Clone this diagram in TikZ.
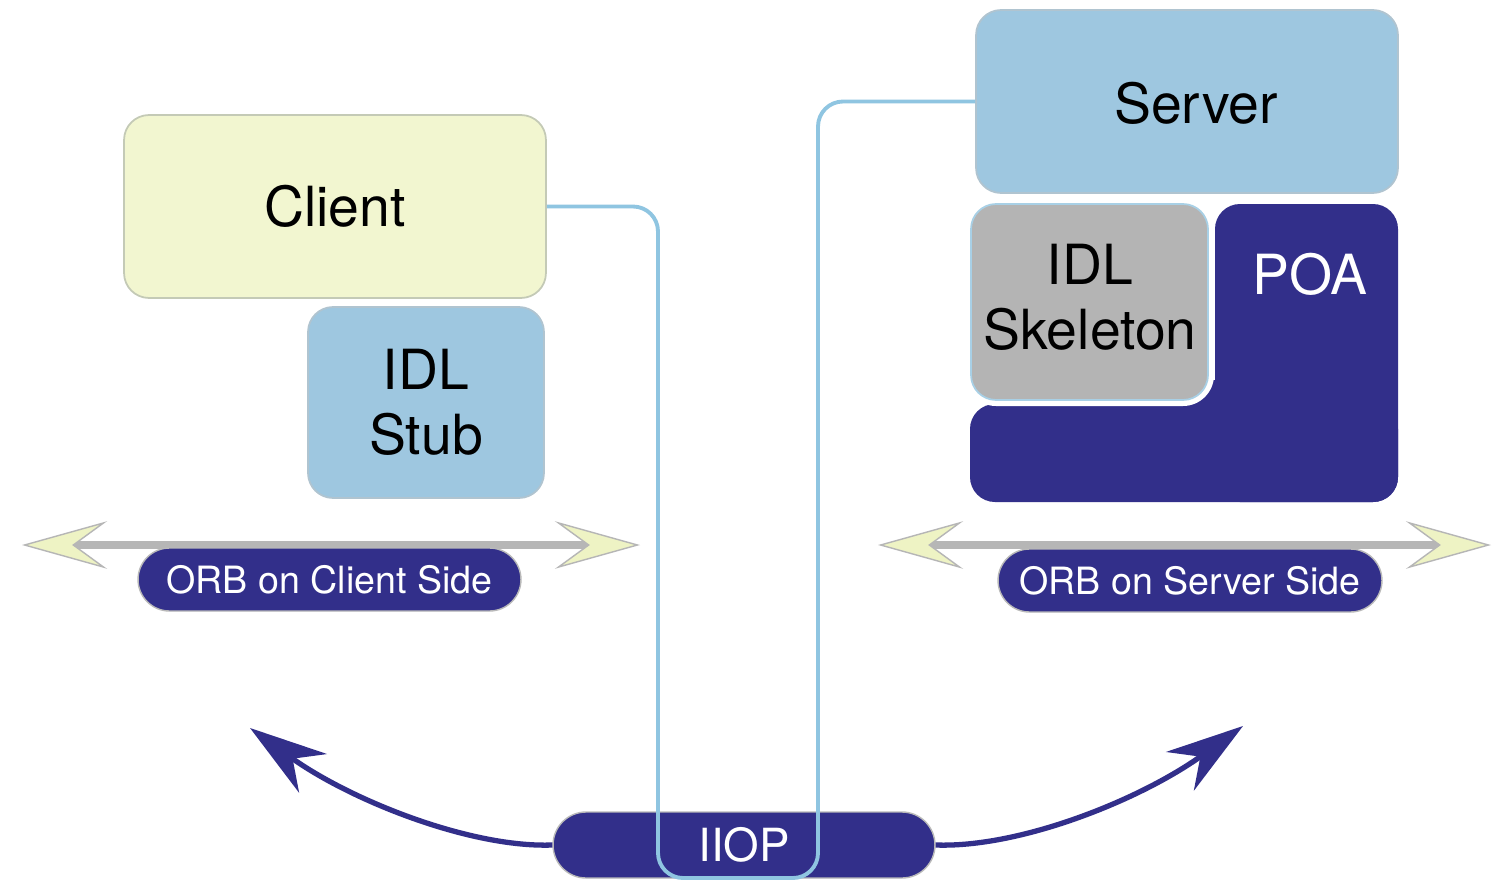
\documentclass[tikz,border=0pt]{standalone}
\usepackage{fontspec}
\setmainfont{TeX Gyre Heros}
\usetikzlibrary{arrows.meta,calc}
\definecolor{navy}{RGB}{50,47,138}
\definecolor{clientfill}{RGB}{242,246,208}
\definecolor{clientline}{RGB}{196,202,182}
\definecolor{bluefill}{RGB}{158,199,224}
\definecolor{blueline}{RGB}{176,196,208}
\definecolor{skelfill}{RGB}{180,180,180}
\definecolor{skelline}{RGB}{168,208,230}
\definecolor{wireblue}{RGB}{143,197,225}
\definecolor{bargray}{RGB}{182,182,182}
\definecolor{orbyellow}{RGB}{238,243,196}
\begin{document}
\begin{tikzpicture}[x=0.02cm,y=-0.02cm,
  box/.style={rounded corners=0.5cm, line width=1pt, inner sep=0pt},
  bigtext/.style={font=\fontsize{31.5}{37}\selectfont, align=center},
  pill/.style={fill=navy, draw=gray!55, line width=0.8pt, inner sep=0pt, text=white},
  orbfont/.style={font=\fontsize{21.4}{25}\selectfont},
  orbtip/.tip={Stealth[length=1.7cm,width=0.95cm,inset=0.65cm,fill=orbyellow,line width=0.8pt]},
  orbbar/.style={draw=bargray, line width=0.16cm, arrows={orbtip-orbtip}},
  wire/.style={draw=wireblue, line width=2.2pt, rounded corners=0.5cm},
  curvearrow/.style={draw=navy, line width=3pt,
    -{Stealth[length=1.55cm,width=0.95cm,inset=0.5cm]}}]

% canvas
\useasboundingbox (0,0) rectangle (1493,882);
\fill[white] (0,0) rectangle (1493,882);

% client side
\node[box, fill=clientfill, draw=clientline, minimum width=8.44cm,
  minimum height=3.66cm, bigtext] (client) at (335,206.5) {Client};
\node[box, fill=bluefill, draw=blueline, minimum width=4.72cm,
  minimum height=3.82cm, bigtext] (stub) at (426,402.5) {IDL\\Stub};

% server side
\node[box, fill=bluefill, draw=blueline, minimum width=8.44cm,
  minimum height=3.66cm] (server) at (1187,101.5) {};
\node[bigtext] (serverlabel) at (1196,103) {Server};

% POA: L-shaped block wrapped round the skeleton
\fill[navy, rounded corners=0.5cm] (1215,204) rectangle (1398,502);
\fill[navy, rounded corners=0.5cm] (970,404) rectangle (1398,502);
\fill[navy] (1185,380) rectangle (1225,410);
\fill[white, rounded corners=0.62cm] (965,198) rectangle (1214,406);
\node[box, fill=skelfill, draw=skelline, minimum width=4.74cm,
  minimum height=3.92cm] (skeleton) at (1089.5,302) {};
\node[bigtext] (skeletonlabel) at (1090,297) {IDL\\Skeleton};
\node[bigtext, text=white] (poalabel) at (1310,274) {POA};

% ORB bars
\coordinate (orbCl) at (22,545);
\coordinate (orbCr) at (640,545);
\draw[orbbar] (orbCl) -- (orbCr);
\coordinate (orbSl) at (878,545);
\coordinate (orbSr) at (1491,545);
\draw[orbbar] (orbSl) -- (orbSr);
\node[pill, rounded corners=0.63cm, minimum width=7.66cm, minimum height=1.26cm,
  orbfont] (orbclient) at (329.5,579.5) {ORB on Client Side};
\node[pill, rounded corners=0.63cm, minimum width=7.68cm, minimum height=1.26cm,
  orbfont] (orbserver) at (1190,580.5) {ORB on Server Side};

% IIOP and the curved arrows
\node[pill, rounded corners=0.66cm, minimum width=7.64cm, minimum height=1.32cm,
  font=\fontsize{26}{30}\selectfont] (iiop) at (744,845) {IIOP};
\coordinate (tipL) at (250,728);
\coordinate (tipR) at (1243,726);
\draw[curvearrow] (iiop.west) .. controls (470,848) and (350,800) .. (tipL);
\draw[curvearrow] (iiop.east) .. controls (1020,848) and (1140,800) .. (tipR);

% request path from client to server
\draw[wire] (client.east) -| (658,878) -- (818,878) |- (server.west);
\end{tikzpicture}
\end{document}
